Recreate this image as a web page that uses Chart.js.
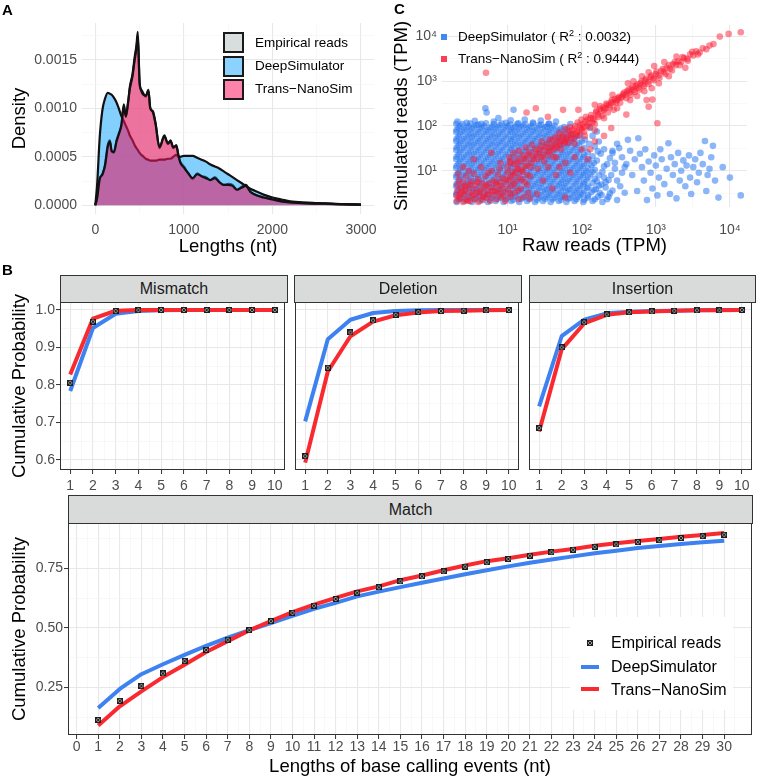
<!DOCTYPE html>
<html lang="en">
<head>
<meta charset="utf-8">
<title>Trans-NanoSim vs DeepSimulator</title>
<script src="https://cdn.jsdelivr.net/npm/chart.js@4.4.0/dist/chart.umd.min.js"></script>
<style>
  html, body { margin: 0; padding: 0; background: #fff; }
  body { width: 757px; height: 778px; position: relative; overflow: hidden; font-family: "Liberation Sans", Arial, sans-serif; color: #000; }
  canvas { position: absolute; }
  .letra { position: absolute; font-weight: bold; font-size: 15px; line-height: 15px; }
  .faixa { position: absolute; box-sizing: border-box; background: #d9dbdb; border: 1px solid #333; font-size: 16px; color: #1a1a1a; display: flex; align-items: center; justify-content: center; }
  .chaveA { position: absolute; left: 223px; width: 21px; height: 21px; box-sizing: border-box; border: 2.5px solid #1a1a1a; }
  .textoA { position: absolute; left: 255px; font-size: 13.5px; line-height: 16px; white-space: nowrap; }
  .chaveC { position: absolute; left: 441px; width: 6px; height: 6px; }
  .textoC { position: absolute; left: 458px; font-size: 13.5px; line-height: 16px; white-space: nowrap; }
  .textoC sup { font-size: 9px; vertical-align: 5px; line-height: 0; }
  #legendaMatch { position: absolute; left: 570px; top: 617px; width: 163px; height: 93px; background: #fff; }
  .textoM { position: absolute; left: 611px; font-size: 16px; line-height: 18px; white-space: nowrap; }
  .linhaM { position: absolute; left: 581px; width: 18px; height: 4px; }
</style>
</head>
<body>

<canvas id="graficoA" width="385" height="258" style="left:0;top:0;width:385px;height:258px"></canvas>
<canvas id="graficoC" width="372" height="258" style="left:385px;top:0;width:372px;height:258px"></canvas>
<canvas id="graficoMismatch" width="290" height="206" style="left:0;top:292px;width:290px;height:206px"></canvas>
<canvas id="graficoDeletion" width="234" height="206" style="left:290px;top:292px;width:234px;height:206px"></canvas>
<canvas id="graficoInsertion" width="233" height="206" style="left:524px;top:292px;width:233px;height:206px"></canvas>
<canvas id="graficoMatch" width="757" height="265" style="left:0;top:513px;width:757px;height:265px"></canvas>

<div class="letra" style="left:2px;top:2px">A</div>
<div class="letra" style="left:2px;top:262px">B</div>
<div class="letra" style="left:394px;top:1px">C</div>

<!-- legenda do painel A -->
<div class="chaveA" style="top:32px;background:#d8dddd"></div>
<div class="chaveA" style="top:56px;background:#8cd2ff"></div>
<div class="chaveA" style="top:79px;background:#ff82aa"></div>
<div class="textoA" style="top:35px">Empirical reads</div>
<div class="textoA" style="top:58px">DeepSimulator</div>
<div class="textoA" style="top:81px">Trans−NanoSim</div>

<!-- legenda do painel C -->
<div class="chaveC" style="top:34px;background:rgba(35,115,240,0.85)"></div>
<div class="chaveC" style="top:56px;background:rgba(250,30,55,0.85)"></div>
<div class="textoC" style="top:29px">DeepSimulator ( R<sup>2</sup> : 0.0032)</div>
<div class="textoC" style="top:51px">Trans−NanoSim ( R<sup>2</sup> : 0.9444)</div>

<!-- faixas dos facets -->
<div class="faixa" style="left:60px;top:275px;width:228px;height:28px">Mismatch</div>
<div class="faixa" style="left:294px;top:275px;width:228px;height:28px">Deletion</div>
<div class="faixa" style="left:529px;top:275px;width:227px;height:28px">Insertion</div>
<div class="faixa" style="left:68px;top:495px;width:685px;height:29px">Match</div>

<!-- legenda do painel Match -->
<div id="legendaMatch"></div>
<canvas id="chaveEmpirica" width="6" height="6" style="left:587px;top:640px;width:6px;height:6px"></canvas>
<div class="linhaM" style="top:665px;background:#3d82f0"></div>
<div class="linhaM" style="top:687px;background:#f92a2f"></div>
<div class="textoM" style="top:634px">Empirical reads</div>
<div class="textoM" style="top:658px">DeepSimulator</div>
<div class="textoM" style="top:681px">Trans−NanoSim</div>

<script>
// ---------- Dados do painel A (densidade dos comprimentos) ----------
const comprimentosNt = [0, 20, 50, 80, 110, 140, 165, 185, 210, 240, 265, 295, 322, 345, 370, 390, 420, 445, 465, 480,
  500, 520, 545, 570, 600, 620, 650, 680, 725, 780, 820, 850, 880, 915, 940, 960, 1000, 1050, 1100, 1150,
  1200, 1250, 1300, 1350, 1400, 1450, 1500, 1550, 1600, 1650, 1700, 1750, 1800, 1900, 2000, 2100, 2200, 2400, 2600, 2800, 3000];
const densidadeEmpirica = [0, 0.00008, 0.00028, 0.00031, 0.00042, 0.00062, 0.00067, 0.00055, 0.00054, 0.00067, 0.00074, 0.00082, 0.00104, 0.00091, 0.00105, 0.00122, 0.00135, 0.00153, 0.00165, 0.00179,
  0.00125, 0.00119, 0.00115, 0.00112, 0.00119, 0.00100, 0.00097, 0.00085, 0.00059, 0.00072, 0.00063, 0.00067, 0.00059, 0.00062, 0.00050, 0.00045, 0.00040, 0.00033, 0.00027, 0.00033,
  0.00030, 0.00029, 0.00026, 0.00029, 0.00024, 0.00021, 0.00022, 0.00021, 0.00016, 0.00019, 0.00021, 0.00014, 0.00011, 0.00008, 0.00006, 0.00004, 0.00003, 0.00002, 0.000015, 0.00001, 0.000005];
const densidadeDeep = [0, 0.0002, 0.0007, 0.00098, 0.0011, 0.00116, 0.00115, 0.00114, 0.00111, 0.00106, 0.00100, 0.00092, 0.00087, 0.00082, 0.00077, 0.00072, 0.00067, 0.00062, 0.00059, 0.00057,
  0.00054, 0.00052, 0.00050, 0.00048, 0.00047, 0.00046, 0.00046, 0.00046, 0.00047, 0.00047, 0.00048, 0.00048, 0.00050, 0.00052, 0.00050, 0.00050, 0.00051, 0.00051, 0.00051, 0.00049,
  0.00047, 0.00045, 0.00042, 0.00040, 0.00038, 0.00035, 0.00032, 0.00029, 0.00026, 0.00023, 0.00020, 0.00017, 0.00015, 0.00011, 0.00008, 0.00006, 0.00004, 0.000028, 0.00002, 0.000012, 0.000008];
const densidadeTrans = [0, 0.00007, 0.00027, 0.00032, 0.00041, 0.00060, 0.00066, 0.00056, 0.00055, 0.00066, 0.00073, 0.00083, 0.00102, 0.00092, 0.00106, 0.00120, 0.00133, 0.00150, 0.00162, 0.00174,
  0.00128, 0.00118, 0.00114, 0.00113, 0.00118, 0.00101, 0.00096, 0.00084, 0.00060, 0.00071, 0.00064, 0.00066, 0.00060, 0.00061, 0.00051, 0.00044, 0.00039, 0.00033, 0.00028, 0.00032,
  0.00030, 0.00028, 0.00026, 0.00028, 0.00024, 0.00021, 0.00021, 0.00020, 0.00016, 0.00018, 0.00020, 0.00014, 0.00011, 0.00008, 0.00006, 0.00004, 0.00003, 0.00002, 0.000016, 0.000011, 0.000006];
const ticksComprimento = [0, 1000, 2000, 3000];
const ticksDensidade = [0, 0.0005, 0.001, 0.0015];

// ---------- Dados do painel C (TPM bruto x TPM simulado) ----------
const pontosDeepSimulator = [
  [2.05,2.0],[2.6,2.1],[3.3,2.0],[4.2,2.1],[5.4,2.0],[6.9,2.1],[8.8,2.0],[11.2,2.1],[14.3,2.0],[18.3,2.1],[23.4,2.0],[30,2.1],[38,2.0],[49,2.1],[62,2.0],[80,2.1],[105,2.0],[140,2.1],[190,2.0],
  [2.18,2.3],[2.77,2.25],[3.5,2.35],[4.47,2.3],[5.75,2.25],[7.35,2.35],[9.4,2.3],[11.9,2.25],[15.2,2.35],[19.5,2.3],[24.9,2.25],[32,2.35],[40.5,2.3],[52,2.25],[66,2.35],[85,2.3],[108,2.25],[150,2.3],
  [2.3,2.5],[2.95,2.6],[3.75,2.5],[4.8,2.6],[6.1,2.5],[7.8,2.6],[10,2.5],[12.7,2.6],[16.2,2.5],[20.7,2.6],[26.5,2.5],[34,2.6],[43,2.5],[55,2.6],[70,2.5],[90,2.6],[120,2.5],[165,2.6],
  [2.02,2.85],[2.45,2.9],[3.14,2.8],[4.0,2.85],[5.1,2.9],[6.5,2.8],[8.3,2.85],[10.9,2.9],[13.5,2.8],[17.3,2.85],[22,2.9],[28.2,2.8],[36,2.85],[46,2.9],[58.5,2.8],[75,2.85],[96,2.9],[122,2.8],[185,2.85],
  [2.05,3.2],[2.6,3.1],[3.3,3.3],[4.2,3.2],[5.4,3.1],[6.9,3.3],[8.8,3.2],[11.2,3.1],[14.3,3.3],[18.3,3.2],[23.4,3.1],[30,3.3],[38,3.2],[49,3.1],[62,3.3],[80,3.2],[102,3.1],[135,3.3],[175,3.2],[240,3.1],
  [2.18,3.6],[2.77,3.55],[3.5,3.65],[4.47,3.6],[5.75,3.55],[7.35,3.65],[9.4,3.6],[11.9,3.55],[15.2,3.65],[19.5,3.6],[24.9,3.55],[32,3.65],[40.5,3.6],[52,3.55],[66,3.65],[85,3.6],[108,3.55],[145,3.7],
  [2.3,4.0],[2.95,4.1],[3.75,3.9],[4.8,4.0],[6.1,4.1],[7.8,3.9],[10,4.0],[12.7,4.1],[16.2,3.9],[20.7,4.0],[26.5,4.1],[34,3.9],[43,4.0],[55,4.1],[70,3.9],[90,4.0],[118,4.1],[155,3.9],[210,4.2],
  [2.02,4.5],[2.45,4.55],[3.14,4.45],[4.0,4.5],[5.1,4.55],[6.5,4.45],[8.3,4.5],[10.9,4.55],[13.5,4.45],[17.3,4.5],[22,4.55],[28.2,4.45],[36,4.5],[46,4.55],[58.5,4.45],[75,4.5],[96,4.55],[122,4.45],[170,4.6],
  [2.05,5.1],[2.6,5.0],[3.3,5.2],[4.2,5.1],[5.4,5.0],[6.9,5.2],[8.8,5.1],[11.2,5.0],[14.3,5.2],[18.3,5.1],[23.4,5.0],[30,5.2],[38,5.1],[49,5.0],[62,5.2],[80,5.1],[104,5.0],[140,5.3],[185,4.9],
  [2.18,5.7],[2.77,5.6],[3.5,5.8],[4.47,5.7],[5.75,5.6],[7.35,5.8],[9.4,5.7],[11.9,5.6],[15.2,5.8],[19.5,5.7],[24.9,5.6],[32,5.8],[40.5,5.7],[52,5.6],[66,5.8],[85,5.7],[108,5.6],[160,5.8],
  [2.3,6.4],[2.95,6.3],[3.75,6.5],[4.8,6.4],[6.1,6.3],[7.8,6.5],[10,6.4],[12.7,6.3],[16.2,6.5],[20.7,6.4],[26.5,6.3],[34,6.5],[43,6.4],[55,6.3],[70,6.5],[90,6.4],[116,6.3],[150,6.6],[230,6.2],
  [2.02,7.2],[2.45,7.3],[3.14,7.1],[4.0,7.2],[5.1,7.3],[6.5,7.1],[8.3,7.2],[10.9,7.3],[13.5,7.1],[17.3,7.2],[22,7.3],[28.2,7.1],[36,7.2],[46,7.3],[58.5,7.1],[75,7.2],[96,7.3],[122,7.1],[200,7.0],
  [2.05,8.1],[2.6,8.0],[3.3,8.2],[4.2,8.1],[5.4,8.0],[6.9,8.2],[8.8,8.1],[11.2,8.0],[14.3,8.2],[18.3,8.1],[23.4,8.0],[30,8.2],[38,8.1],[49,8.0],[62,8.2],[80,8.1],[103,8.0],[130,8.3],[170,7.9],
  [2.18,9.1],[2.77,9.0],[3.5,9.2],[4.47,9.1],[5.75,9.0],[7.35,9.2],[9.4,9.1],[11.9,9.0],[15.2,9.2],[19.5,9.1],[24.9,9.0],[32,9.2],[40.5,9.1],[52,9.0],[66,9.2],[85,9.1],[108,9.0],[140,9.3],
  [2.3,10.2],[2.95,10.0],[3.75,10.4],[4.8,10.2],[6.1,10.0],[7.8,10.4],[10,10.2],[12.7,10.0],[16.2,10.4],[20.7,10.2],[26.5,10.0],[34,10.4],[43,10.2],[55,10.0],[70,10.4],[90,10.2],[115,10.0],[150,10.5],
  [2.02,11.5],[2.45,11.6],[3.14,11.4],[4.0,11.5],[5.1,11.6],[6.5,11.4],[8.3,11.5],[10.9,11.6],[13.5,11.4],[17.3,11.5],[22,11.6],[28.2,11.4],[36,11.5],[46,11.6],[58.5,11.4],[75,11.5],[96,11.6],[122,11.4],
  [2.05,12.9],[2.6,12.7],[3.3,13.1],[4.2,12.9],[5.4,12.7],[6.9,13.1],[8.8,12.9],[11.2,12.7],[14.3,13.1],[18.3,12.9],[23.4,12.7],[30,13.1],[38,12.9],[49,12.7],[62,13.1],[80,12.9],[102,12.7],[135,13.2],[200,12.5],
  [2.18,14.5],[2.77,14.3],[3.5,14.7],[4.47,14.5],[5.75,14.3],[7.35,14.7],[9.4,14.5],[11.9,14.3],[15.2,14.7],[19.5,14.5],[24.9,14.3],[32,14.7],[40.5,14.5],[52,14.3],[66,14.7],[85,14.5],[108,14.3],[145,14.8],
  [2.3,16.3],[2.95,16],[3.75,16.6],[4.8,16.3],[6.1,16],[7.8,16.6],[10,16.3],[12.7,16],[16.2,16.6],[20.7,16.3],[26.5,16],[34,16.6],[43,16.3],[55,16],[70,16.6],[90,16.3],[118,16],[160,16.8],
  [2.02,18.3],[2.45,18.5],[3.14,18.1],[4.0,18.3],[5.1,18.5],[6.5,18.1],[8.3,18.3],[10.9,18.5],[13.5,18.1],[17.3,18.3],[22,18.5],[28.2,18.1],[36,18.3],[46,18.5],[58.5,18.1],[75,18.3],[96,18.5],[125,18.1],
  [2.05,20.5],[2.6,20.2],[3.3,20.8],[4.2,20.5],[5.4,20.2],[6.9,20.8],[8.8,20.5],[11.2,20.2],[14.3,20.8],[18.3,20.5],[23.4,20.2],[30,20.8],[38,20.5],[49,20.2],[62,20.8],[80,20.5],[105,20.2],[140,21],
  [2.18,23],[2.77,22.7],[3.5,23.3],[4.47,23],[5.75,22.7],[7.35,23.3],[9.4,23],[11.9,22.7],[15.2,23.3],[19.5,23],[24.9,22.7],[32,23.3],[40.5,23],[52,22.7],[66,23.3],[85,23],[108,22.7],
  [2.3,26],[2.95,25.5],[3.75,26.5],[4.8,26],[6.1,25.5],[7.8,26.5],[10,26],[12.7,25.5],[16.2,26.5],[20.7,26],[26.5,25.5],[34,26.5],[43,26],[55,25.5],[70,26.5],[90,26],[120,25.5],[165,27],
  [2.02,29],[2.45,29.4],[3.14,28.6],[4.0,29],[5.1,29.4],[6.5,28.6],[8.3,29],[10.9,29.4],[13.5,28.6],[17.3,29],[22,29.4],[28.2,28.6],[36,29],[46,29.4],[58.5,28.6],[75,29],[96,29.4],
  [2.05,33],[2.6,32.5],[3.3,33.5],[4.2,33],[5.4,32.5],[6.9,33.5],[8.8,33],[11.2,32.5],[14.3,33.5],[18.3,33],[23.4,32.5],[30,33.5],[38,33],[49,32.5],[62,33.5],[80,33],[108,32],
  [2.18,37],[2.77,36.5],[3.5,37.5],[4.47,37],[5.75,36.5],[7.35,37.5],[9.4,37],[11.9,36.5],[15.2,37.5],[19.5,37],[24.9,36.5],[32,37.5],[40.5,37],[52,36.5],[66,37.5],[85,37],
  [2.3,41],[2.95,40.5],[3.75,42],[4.8,41],[6.1,40.5],[7.8,42],[10,41],[12.7,40.5],[16.2,42],[20.7,41],[26.5,40.5],[34,42],[43,41],[55,40.5],[70,42],[92,41],[125,40],
  [2.02,46],[2.45,46.5],[3.14,45.5],[4.0,46],[5.1,46.5],[6.5,45.5],[8.3,46],[10.9,46.5],[13.5,45.5],[17.3,46],[22,46.5],[28.2,45.5],[36,46],[46,46.5],[58.5,45.5],[75,46],[100,45],
  [2.05,52],[2.6,51],[3.3,53],[4.2,52],[5.4,51],[6.9,53],[8.8,52],[11.2,51],[14.3,53],[18.3,52],[23.4,51],[30,53],[38,52],[49,51],[62,53],[80,52],[110,50],
  [2.18,58],[2.77,57],[3.5,59],[4.47,58],[5.75,57],[7.35,59],[9.4,58],[11.9,57],[15.2,59],[19.5,58],[24.9,57],[32,59],[40.5,58],[52,57],[66,59],[85,58],
  [2.3,65],[2.95,64],[3.75,66],[4.8,65],[6.1,64],[7.8,66],[10,65],[12.7,64],[16.2,66],[20.7,65],[26.5,64],[34,66],[43,65],[55,64],[72,66],[95,63],
  [2.02,73],[2.45,74],[3.14,72],[4.0,73],[5.1,74],[6.5,72],[8.3,73],[10.9,74],[13.5,72],[17.3,73],[22,74],[28.2,72],[36,73],[46,74],[60,72],
  [2.05,82],[2.6,80],[3.3,84],[4.2,82],[5.4,80],[6.9,84],[8.8,82],[11.2,80],[14.3,84],[18.3,82],[23.4,80],[30,84],[38,82],[49,80],[64,83],
  [2.18,91],[2.77,89],[3.5,93],[4.47,91],[5.75,89],[7.35,93],[9.4,91],[11.9,89],[15.2,93],[19.5,91],[24.9,89],[32,93],[40.5,91],[52,88],
  [2.3,100],[2.95,98],[3.75,104],[4.8,100],[6.1,96],[7.8,104],[10,100],[12.7,97],[16.2,103],[20.7,99],[26.5,102],[34,97],[43,101],[58,95],
  [2.02,112],[2.45,110],[3.14,114],[4.0,108],[5.1,115],[6.5,110],[8.3,113],[10.9,108],[13.5,112],[17.3,110],[22,114],[28.2,108],[36,112],
  [2.1,125],[2.8,118],[3.6,130],[4.4,112],[5.0,250],[5.2,200],[6.5,125],[7.5,150],[9.5,118],[11,135],[12,230],[14,115],[17,140],[22,120],[28,132],[36,112],[45,125],[70,110],
  [230,2.6],[260,3.6],[300,2.2],[210,5.5],[250,8],[190,9.5],[280,11],[220,14],[180,24],[240,19],[300,6],[330,4.5],[200,30],[150,35],[170,45],[140,60],[260,28],[350,9],[220,2.3],[380,3.2],[160,75],[130,90],[300,40],[400,14],
  [260,25],[280,15],[320,32],[350,20],[380,12],[420,49],[450,28],[480,8],[520,18],[560,3.5],[580,53],[610,24],[650,12],[690,6],[720,30],[760,2.2],[800,16],[850,9],[900,4],[950,22],
  [1000,13],[1050,2.8],[1100,7],[1150,30],[1200,18],[1300,5],[1400,11],[1480,41],[1550,3],[1600,20],[1700,8],[1800,14],[1900,2.4],[2000,25],[2100,6],[2200,10],[2350,17],[2500,4.5],[2600,13],[2800,22],
  [2900,7],[3000,3],[3200,12],[3400,18],[3600,5.5],[3800,9],[4000,25],[4300,14],[4600,46],[4800,3.5],[5000,8],[5300,11],[5600,20],[5900,36],[6300,6],[7000,2.5],[8000,12],[10000,7],[14000,2.8]
];
const pontosTransNanoSim = [
  [2.05,2.1],[2.05,2.8],[2.1,3.6],[2.1,4.8],[2.2,6.2],[2.3,2.4],[2.35,3.2],[2.4,4.2],[2.5,2.0],[2.5,5.5],[2.6,2.9],[2.7,3.8],[2.75,7.5],[2.8,2.3],[2.9,4.6],[3.0,3.2],[3.1,2.1],[3.2,5.8],[3.3,2.7],[3.4,3.9],
  [3.5,8.5],[3.6,2.3],[3.7,4.8],[3.8,3.2],[4.0,2.0],[4.0,6.5],[4.2,2.7],[4.3,3.8],[4.5,5.2],[4.6,2.2],[4.8,3.1],[4.9,4.3],[5.0,7.5],[5.2,2.5],[5.4,3.5],[5.6,5.2],[5.8,2.1],[6.0,4.2],[6.1,10],[6.3,2.9],
  [6.5,6],[6.7,3.6],[7.0,2.3],[7.1,4.8],[7.4,8],[7.6,3.1],[7.9,5.6],[8.1,2.5],[8.4,4],[8.7,6.8],[9.0,3.3],[9.3,2.1],[9.6,5],[9.9,9],[10.2,3.8],[10.5,6.2],[11,2.6],[11.5,4.6],[12,8],[12.5,3.2],
  [13,5.8],[13.5,11],[14,2.3],[14.5,7],[15,4],[16,9.5],[17,5.5],[18,13],[19,3.2],[20,7.5],[2.5,12],[3.5,18],[6,25],[8,15],
  [2.2,2.6],[2.45,3.4],[2.65,4.4],[2.9,2.1],[3.1,4.9],[3.45,2.9],[3.9,5.5],[4.1,3.4],[4.7,2.6],[5.1,4.8],[5.5,2.9],[6.2,3.5],[6.9,5.4],[7.3,3.4],[8.0,4.6],[8.9,2.7],[9.4,6.4],[10.8,3.1],[12.2,5.0],[13.8,3.6],
  [15.5,6.3],[16.5,2.6],[18.5,4.8],[2.15,8.5],[3.0,10],[4.4,12],[5.5,9],[7.8,11],[11,15],
  [10,12],[10.8,16],[11.5,9.5],[12.3,14],[13.2,19],[14,11],[15,16],[16,22],[17,12.5],[18,18],[19.5,26],[21,15],[22,21],[23.5,30],[25,18],[26.5,25],[28,35],[30,22],[32,29],[34,40],
  [10.5,20],[11,7],[12,25],[12.8,9],[13.5,15],[14.2,28],[15.5,10],[16.5,19],[17.5,33],[18.5,8],[19,23],[20.5,12],[21.5,38],[22.5,18],[24,24],[25.5,11],[27,30],[28.5,20],[29,45],
  [36,26],[38,33],[40,48],[43,31],[45,40],[48,55],[51,38],[54,47],[57,64],[60,45],[64,56],[68,75],[72,54],[76,66],[80,88],[85,64],[90,78],[95,105],[100,82],[106,95],
  [31,16],[33,34],[35,22],[37,50],[39,28],[41,36],[42,20],[44,55],[46,34],[49,44],[50,70],[52,30],[55,55],[58,40],[60,85],[62,50],[66,42],[69,95],[71,64],[74,80],[78,52],[82,100],[86,72],[88,120],[92,60],[97,90],[99,140],
  [112,125],[118,100],[125,115],[132,150],[140,120],[148,140],
  [103,110],[108,75],[114,160],[120,140],[127,95],[134,175],[142,150],[150,110],[158,220],[168,160],[178,280],[190,170],[200,230],[215,320],[225,200],[240,260],[255,380],[270,230],[290,330],[310,420],
  [156,200],[165,180],[175,240],[185,215],[196,260],[208,250],[220,300],[235,290],[250,340],[265,330],[280,400],[300,380],[320,450],[340,430],[360,520],[385,500],[410,600],[440,560],[470,680],[500,640],
  [330,330],[355,460],[375,560],[400,420],[430,650],[460,500],[490,760],[520,580],[560,850],[600,650],[640,1000],[690,780],[740,1150],[800,870],[870,1350],[940,1050],[1020,1650],[1120,1200],[1250,1900],[1350,1450],
  [1500,2300],[1650,1750],[1800,2700],[2100,2300],[2300,3500],[2700,2900],[3100,4600],[3700,4000],
  [540,780],[580,720],[620,900],[670,850],[720,1050],[780,980],[850,1250],[920,1150],[1000,1450],[1080,1350],[1180,1700],[1280,1600],[1400,2000],[1550,1900],[1700,2400],[1850,2300],[2000,2800],[2200,2700],[2400,3300],[2650,3200],
  [2900,4000],[3200,3800],[3500,4700],[3900,4400],[4300,5500],[4800,5200],[5300,6300],[6000,6800],[7300,10000],[9600,11500],[14000,12500],
  [150,300],[200,150],[260,500],[300,250],[420,900],[450,380],[500,1000],[560,470],[650,1300],[700,600],[800,1600],[880,700],[950,2200],[1100,900],[1300,2700],[1500,1300],[1900,3600],[2500,2000],
  [5.1,1550],[24,250],[56,230],[18,200],[35,160],[90,230],[800,270],[1050,115],[900,390],[750,380],[400,180],[130,30],[200,60],[60,15],[45,8],[80,20],[150,45],[250,90],
  [25,3],[30,6],[40,4],[50,12],[60,2.5],[70,9],[100,30],[120,18],[35,12],[20,2.4],[45,20],[80,40],[110,60],[150,80]
];
const ticksTPM = [10, 100, 1000, 10000];

// ---------- Dados do painel B (probabilidade cumulativa) ----------
const eventosTopo = [1, 2, 3, 4, 5, 6, 7, 8, 9, 10];
const empiricoMismatch = [0.806, 0.969, 0.997, 0.9995, 1.0, 1.0, 1.0, 1.0, 1.0, 1.0];
const deepMismatch = [0.784, 0.952, 0.990, 0.997, 0.999, 1.0, 1.0, 1.0, 1.0, 1.0];
const transMismatch = [0.828, 0.977, 0.998, 1.0, 1.0, 1.0, 1.0, 1.0, 1.0, 1.0];
const empiricoDeletion = [0.610, 0.846, 0.940, 0.972, 0.987, 0.994, 0.997, 0.998, 0.999, 1.0];
const deepDeletion = [0.703, 0.922, 0.974, 0.992, 0.997, 0.999, 1.0, 1.0, 1.0, 1.0];
const transDeletion = [0.593, 0.836, 0.930, 0.969, 0.986, 0.993, 0.997, 0.998, 0.999, 1.0];
const empiricoInsertion = [0.685, 0.900, 0.967, 0.988, 0.994, 0.996, 0.998, 0.999, 0.999, 1.0];
const deepInsertion = [0.743, 0.930, 0.974, 0.991, 0.995, 0.997, 0.998, 0.999, 1.0, 1.0];
const transInsertion = [0.676, 0.895, 0.964, 0.987, 0.994, 0.996, 0.998, 0.999, 0.999, 1.0];
const ticksProbTopo = [0.6, 0.7, 0.8, 0.9, 1.0];

const eventosMatch = [1, 2, 3, 4, 5, 6, 7, 8, 9, 10, 11, 12, 13, 14, 15, 16, 17, 18, 19, 20, 21, 22, 23, 24, 25, 26, 27, 28, 29, 30];
const empiricoMatch = [0.113, 0.193, 0.255, 0.308, 0.360, 0.407, 0.450, 0.490, 0.528, 0.563, 0.593, 0.621, 0.647, 0.670, 0.695,
  0.716, 0.737, 0.757, 0.775, 0.789, 0.803, 0.817, 0.828, 0.840, 0.850, 0.860, 0.868, 0.877, 0.885, 0.891];
const deepMatch = [0.163, 0.243, 0.305, 0.347, 0.386, 0.424, 0.459, 0.490, 0.520, 0.550, 0.580, 0.605, 0.632, 0.652, 0.671,
  0.689, 0.707, 0.725, 0.742, 0.758, 0.773, 0.787, 0.800, 0.813, 0.824, 0.835, 0.844, 0.852, 0.859, 0.866];
const transMatch = [0.090, 0.170, 0.233, 0.293, 0.345, 0.398, 0.444, 0.489, 0.528, 0.566, 0.597, 0.626, 0.653, 0.674, 0.700,
  0.720, 0.742, 0.762, 0.780, 0.792, 0.807, 0.820, 0.831, 0.845, 0.855, 0.865, 0.873, 0.883, 0.890, 0.898];
const ticksEventosMatch = [0, 1, 2, 3, 4, 5, 6, 7, 8, 9, 10, 11, 12, 13, 14, 15, 16, 17, 18, 19, 20, 21, 22, 23, 24, 25, 26, 27, 28, 29, 30];
const ticksProbMatch = [0.25, 0.5, 0.75];

// ---------- Estilo ----------
const AZUL = '#3d82f0';
const VERMELHO = '#f92a2f';
const FONTE = '"Liberation Sans", Arial, sans-serif';
const corTick = '#4d4d4d';

Chart.defaults.font.family = FONTE;
Chart.defaults.animation = false;

// Linhas de grade: principais mais fortes, secundárias mais leves
const corGrade = (ctx) => ctx.tick && ctx.tick.major ? '#e8e8e8' : '#f3f3f3';
const larguraGrade = (ctx) => ctx.tick && ctx.tick.major ? 1.1 : 0.6;

// Valores secundários (meio do caminho entre os principais)
function secundarios(principais, min, max) {
  const passo = principais[1] - principais[0];
  const lista = [principais[0] - passo / 2];
  for (let i = 1; i < principais.length; i++) lista.push((principais[i] + principais[i - 1]) / 2);
  lista.push(principais[principais.length - 1] + passo / 2);
  return lista.filter(v => v > min && v < max);
}

function secundariosLog(principais, min, max) {
  const lista = [principais[0] / Math.sqrt(10)];
  principais.forEach(v => lista.push(v * Math.sqrt(10)));
  return lista.filter(v => v > min && v < max);
}

function montarTicks(principais, extras) {
  return function (escala) {
    const lista = principais.map(v => ({ value: v, major: true }))
      .concat(extras.map(v => ({ value: v, major: false })));
    lista.sort((a, b) => a.value - b.value);
    escala.ticks = lista;
  };
}

// Moldura do painel (theme_bw)
const bordaPainel = {
  id: 'bordaPainel',
  afterDraw(chart) {
    const { ctx, chartArea: a } = chart;
    ctx.save();
    ctx.strokeStyle = '#333333';
    ctx.lineWidth = 1;
    ctx.strokeRect(Math.round(a.left) + 0.5, Math.round(a.top) + 0.5, Math.round(a.right - a.left) - 1, Math.round(a.bottom - a.top) - 1);
    ctx.restore();
  }
};

// Marcador dos dados empíricos (quadrado com X)
function marcadorEmpirico(canvas) {
  const c = canvas || document.createElement('canvas');
  c.width = 6; c.height = 6;
  const g = c.getContext('2d');
  g.fillStyle = '#9c9c9c';
  g.fillRect(0, 0, 6, 6);
  g.strokeStyle = '#1e1e1e';
  g.lineWidth = 1;
  g.strokeRect(0.5, 0.5, 5, 5);
  g.beginPath();
  g.moveTo(1, 1); g.lineTo(5, 5);
  g.moveTo(5, 1); g.lineTo(1, 5);
  g.stroke();
  return c;
}

const juntar = (xs, ys) => xs.map((x, i) => ({ x: x, y: ys[i] }));
const SUPER = { 1: '¹', 2: '²', 3: '³', 4: '⁴' };

// ---------- Painel A ----------
function criarGraficoA() {
  const xMin = -150, xMax = 3150, yMin = -0.00009, yMax = 0.00188;
  const serie = (dados, fundo, ordem) => ({
    data: juntar(comprimentosNt, dados),
    borderColor: '#111',
    borderWidth: 2.2,
    backgroundColor: fundo,
    fill: 'origin',
    pointRadius: 0,
    cubicInterpolationMode: 'monotone',
    order: ordem
  });
  new Chart(document.getElementById('graficoA'), {
    type: 'line',
    data: {
      datasets: [
        serie(densidadeTrans, 'rgba(255,20,100,0.53)', 0),
        serie(densidadeDeep, 'rgba(30,170,255,0.55)', 1),
        serie(densidadeEmpirica, 'rgba(180,190,190,0.53)', 2)
      ]
    },
    options: {
      responsive: false,
      devicePixelRatio: 1,
      layout: { padding: { left: 0, right: 10, top: 23, bottom: 0 } },
      plugins: { legend: { display: false }, tooltip: { enabled: false } },
      scales: {
        x: {
          type: 'linear', min: xMin, max: xMax, bounds: 'data',
          afterBuildTicks: montarTicks(ticksComprimento, secundarios(ticksComprimento, xMin, xMax)),
          afterFit: (e) => { e.height = 44; },
          grid: { color: corGrade, lineWidth: larguraGrade, drawTicks: false },
          border: { display: false },
          ticks: { autoSkip: false, maxRotation: 0, padding: 8, color: corTick, font: { size: 14 },
            callback: (v, i, l) => l[i].major ? String(v) : '' },
          title: { display: true, text: 'Lengths (nt)', color: '#000', font: { size: 18.5 }, padding: { top: 0, bottom: 0 } }
        },
        y: {
          type: 'linear', min: yMin, max: yMax, bounds: 'data',
          afterBuildTicks: montarTicks(ticksDensidade, secundarios(ticksDensidade, yMin, yMax)),
          afterFit: (e) => { e.width = 82; },
          grid: { color: corGrade, lineWidth: larguraGrade, drawTicks: false },
          border: { display: false },
          ticks: { autoSkip: false, padding: 5, color: corTick, font: { size: 14 },
            callback: (v, i, l) => l[i].major ? v.toFixed(4) : '' },
          title: { display: true, text: 'Density', color: '#000', font: { size: 18.5 }, padding: { top: 9, bottom: 0 } }
        }
      }
    }
  });
}

// ---------- Painel C ----------
function criarGraficoC() {
  const xMin = 1.3, xMax = 17000, yMin = 1.54, yMax = 18200;
  const rotuloLog = (v, i, l) => l[i].major ? '10' + SUPER[Math.round(Math.log10(v))] : '';
  new Chart(document.getElementById('graficoC'), {
    type: 'scatter',
    data: {
      datasets: [
        { data: pontosTransNanoSim.map(([x, y]) => ({ x, y })), backgroundColor: 'rgba(250,28,52,0.5)', borderWidth: 0, pointRadius: 3.3, order: 0 },
        { data: pontosDeepSimulator.map(([x, y]) => ({ x, y })), backgroundColor: 'rgba(35,115,240,0.52)', borderWidth: 0, pointRadius: 3.3, order: 1 }
      ]
    },
    options: {
      responsive: false,
      devicePixelRatio: 1,
      layout: { padding: { left: 0, right: 10, top: 25, bottom: 0 } },
      plugins: { legend: { display: false }, tooltip: { enabled: false } },
      scales: {
        x: {
          type: 'logarithmic', min: xMin, max: xMax, bounds: 'data',
          afterBuildTicks: montarTicks(ticksTPM, secundariosLog(ticksTPM, xMin, xMax)),
          afterFit: (e) => { e.height = 51; },
          grid: { color: corGrade, lineWidth: larguraGrade, drawTicks: false },
          border: { display: false },
          ticks: { autoSkip: false, maxRotation: 0, padding: 15, color: corTick, font: { size: 14 }, callback: rotuloLog },
          title: { display: true, text: 'Raw reads (TPM)', color: '#000', font: { size: 18.5 }, padding: { top: 0, bottom: 1 } }
        },
        y: {
          type: 'logarithmic', min: yMin, max: yMax, bounds: 'data',
          afterBuildTicks: montarTicks(ticksTPM, secundariosLog(ticksTPM, yMin, yMax)),
          afterFit: (e) => { e.width = 57; },
          grid: { color: corGrade, lineWidth: larguraGrade, drawTicks: false },
          border: { display: false },
          ticks: { autoSkip: false, padding: 5, color: corTick, font: { size: 14 }, callback: rotuloLog },
          title: { display: true, text: 'Simulated reads (TPM)', color: '#000', font: { size: 18.5 }, padding: { top: 6, bottom: 0 } }
        }
      }
    }
  });
}

// ---------- Painéis B (probabilidade cumulativa) ----------
function criarGraficoCumulativo(cfg) {
  const marcador = marcadorEmpirico();
  const linha = (dados, cor, ordem) => ({
    data: juntar(cfg.eventos, dados), borderColor: cor, borderWidth: 4, pointRadius: 0,
    fill: false, tension: 0, borderCapStyle: 'butt', borderJoinStyle: 'round', order: ordem
  });
  const corMarca = (ctx) => ctx.tick && ctx.tick.major ? '#333' : 'rgba(0,0,0,0)';
  new Chart(document.getElementById(cfg.id), {
    type: 'line',
    data: {
      datasets: [
        { data: juntar(cfg.eventos, cfg.empirico), showLine: false, pointStyle: marcador, pointRadius: 3, order: 0 },
        linha(cfg.trans, VERMELHO, 1),
        linha(cfg.deep, AZUL, 2)
      ]
    },
    options: {
      responsive: false,
      devicePixelRatio: 1,
      layout: { padding: cfg.padding },
      plugins: { legend: { display: false }, tooltip: { enabled: false } },
      scales: {
        x: {
          type: 'linear', min: cfg.xMin, max: cfg.xMax, bounds: 'data',
          afterBuildTicks: montarTicks(cfg.ticksX, secundarios(cfg.ticksX, cfg.xMin, cfg.xMax)),
          afterFit: (e) => { e.height = cfg.alturaX; },
          grid: { color: corGrade, lineWidth: larguraGrade, drawTicks: true, tickLength: 4, tickColor: corMarca, tickWidth: 1 },
          border: { display: false },
          ticks: { autoSkip: false, maxRotation: 0, padding: cfg.padX, color: corTick, font: { size: 14 },
            callback: (v, i, l) => l[i].major ? String(v) : '' },
          title: { display: !!cfg.tituloX, text: cfg.tituloX || '', color: '#000', font: { size: 18.5 }, padding: { top: 0, bottom: 0 } }
        },
        y: {
          type: 'linear', min: cfg.yMin, max: cfg.yMax, bounds: 'data',
          afterBuildTicks: montarTicks(cfg.ticksY, secundarios(cfg.ticksY, cfg.yMin, cfg.yMax)),
          afterFit: (e) => { e.width = cfg.larguraY; },
          grid: { color: corGrade, lineWidth: larguraGrade, drawTicks: cfg.comEixoY, tickLength: 4, tickColor: corMarca, tickWidth: 1 },
          border: { display: false },
          ticks: { display: cfg.comEixoY, autoSkip: false, padding: 1, color: corTick, font: { size: 14 },
            callback: (v, i, l) => l[i].major ? v.toFixed(cfg.casas) : '' },
          title: { display: cfg.comEixoY, text: 'Cumulative Probability', color: '#000', font: { size: 18.5 }, padding: { top: 9, bottom: 0 } }
        }
      }
    },
    plugins: [bordaPainel]
  });
}

const baseTopo = {
  eventos: eventosTopo, ticksX: eventosTopo, xMin: 0.55, xMax: 10.45,
  ticksY: ticksProbTopo, yMin: 0.5733, yMax: 1.0213, casas: 1, alturaX: 28, padX: 4
};

window.addEventListener('load', () => {
  criarGraficoA();
  criarGraficoC();
  criarGraficoCumulativo(Object.assign({}, baseTopo, {
    id: 'graficoMismatch', empirico: empiricoMismatch, deep: deepMismatch, trans: transMismatch,
    comEixoY: true, larguraY: 60, padding: { left: 0, right: 3, top: 10, bottom: 0 }
  }));
  criarGraficoCumulativo(Object.assign({}, baseTopo, {
    id: 'graficoDeletion', empirico: empiricoDeletion, deep: deepDeletion, trans: transDeletion,
    comEixoY: false, larguraY: 0, padding: { left: 4, right: 3, top: 10, bottom: 0 }
  }));
  criarGraficoCumulativo(Object.assign({}, baseTopo, {
    id: 'graficoInsertion', empirico: empiricoInsertion, deep: deepInsertion, trans: transInsertion,
    comEixoY: false, larguraY: 0, padding: { left: 5, right: 2, top: 10, bottom: 0 }
  }));
  criarGraficoCumulativo({
    id: 'graficoMatch', eventos: eventosMatch, empirico: empiricoMatch, deep: deepMatch, trans: transMatch,
    ticksX: ticksEventosMatch, xMin: -0.4, xMax: 31.29, ticksY: ticksProbMatch, yMin: 0.0496, yMax: 0.9403, casas: 2,
    comEixoY: true, larguraY: 68, alturaX: 43, padX: 0, tituloX: 'Lengths of base calling events (nt)',
    padding: { left: 0, right: 5, top: 10, bottom: 0 }
  });
  marcadorEmpirico(document.getElementById('chaveEmpirica'));
});
</script>
</body>
</html>
